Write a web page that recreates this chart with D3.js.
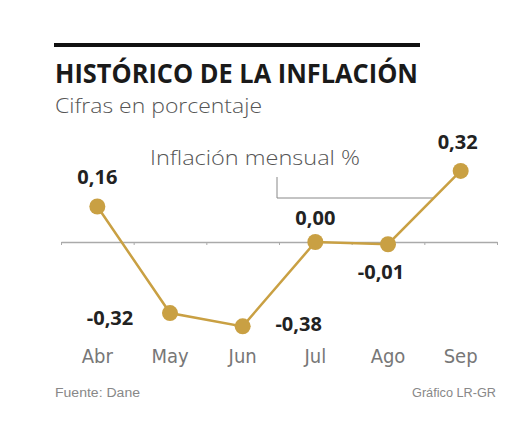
<!DOCTYPE html>
<meta charset="utf-8">
<head>
<style>
body { margin: 0; background: #fff; }
.month text { font-family: "Liberation Sans Narrow", "DejaVu Sans Condensed", sans-serif; font-size: 20px; fill: #777; }
.val { font-family: "Open Sans", sans-serif; font-weight: 700; font-size: 20px; fill: #222; }
</style>
</head>
<body>
<script src="https://cdn.jsdelivr.net/npm/d3@7"></script>
<div id="chart"></div>
<script>
var months = ["Abr", "May", "Jun", "Jul", "Ago", "Sep"];
var values = [0.16, -0.32, -0.38, 0.00, -0.01, 0.32];
var labels = ["0,16", "-0,32", "-0,38", "0,00", "-0,01", "0,32"];
// label offsets relative to each point
var labelDx = [0, -60, 56, 0, -7, -3];
var labelDy = [-22, 12, 5, -17, 35, -22];

var width = 530, height = 442;
var gold = "#c9a043";

var svg = d3.select("#chart").append("svg")
    .attr("width", width)
    .attr("height", height);

// top rule
svg.append("rect").attr("x", 54).attr("y", 43).attr("width", 366).attr("height", 4).attr("fill", "#111");

svg.append("text")
    .attr("x", 55).attr("y", 83)
    .style("font-family", "Open Sans, sans-serif").style("font-weight", 700)
    .style("font-size", "27px").style("fill", "#1a1a1a")
    .attr("textLength", 363).attr("lengthAdjust", "spacingAndGlyphs")
    .text("HISTÓRICO DE LA INFLACIÓN");

svg.append("text")
    .attr("x", 55).attr("y", 113)
    .style("font-family", "Open Sans, sans-serif").style("font-weight", 300)
    .style("font-size", "21px").style("fill", "#555")
    .attr("textLength", 207).attr("lengthAdjust", "spacingAndGlyphs")
    .text("Cifras en porcentaje");

var xb = d3.scaleBand().domain(months).range([61, 497]).padding(0);
var x = function(d) { return xb(d) + xb.bandwidth() / 2; };
var y = d3.scaleLinear().domain([-0.4, 0.35]).range([242 + 0.4 * 222, 242 - 0.35 * 222]);

// zero line with ticks at band boundaries
var bounds = months.map(function(m) { return xb(m); }).concat([xb.range()[1]]);
var axisScale = d3.scaleLinear().domain([61, 497]).range([61, 497]);
var zero = svg.append("g")
    .attr("transform", "translate(0," + y(0) + ")")
    .call(d3.axisBottom(axisScale).tickValues(bounds).tickSize(3).tickSizeOuter(0).tickFormat(""));
zero.select(".domain").attr("stroke", "#aaa").attr("stroke-width", 1.5);
zero.selectAll(".tick line").attr("stroke", "#aaa");

// legend + leader line
svg.append("text")
    .attr("x", 150).attr("y", 165)
    .style("font-family", "Open Sans, sans-serif").style("font-weight", 300)
    .style("font-size", "20px").style("fill", "#555")
    .attr("textLength", 210).attr("lengthAdjust", "spacingAndGlyphs")
    .text("Inflación mensual %");
svg.append("path")
    .attr("d", "M277,177V198H433")
    .attr("fill", "none").attr("stroke", "#888").attr("stroke-width", 1);

var line = d3.line()
    .x(function(d, i) { return x(months[i]); })
    .y(function(d) { return y(d); });

svg.append("path")
    .datum(values)
    .attr("d", line)
    .attr("fill", "none")
    .attr("stroke", gold)
    .attr("stroke-width", 2.5);

svg.selectAll(".dot")
    .data(values)
    .enter().append("circle")
    .attr("class", "dot")
    .attr("cx", function(d, i) { return x(months[i]); })
    .attr("cy", function(d) { return y(d); })
    .attr("r", 8)
    .attr("fill", gold);

svg.selectAll(".val")
    .data(values)
    .enter().append("text")
    .attr("class", "val")
    .attr("text-anchor", "middle")
    .attr("x", function(d, i) { return x(months[i]) + labelDx[i]; })
    .attr("y", function(d, i) { return y(d) + labelDy[i]; })
    .text(function(d, i) { return labels[i]; });

svg.append("g").attr("class", "month")
    .selectAll("text")
    .data(months)
    .enter().append("text")
    .attr("text-anchor", "middle")
    .attr("x", function(d) { return x(d); })
    .attr("y", 363)
    .text(function(d) { return d; });

svg.append("text")
    .attr("x", 55).attr("y", 397)
    .style("font-family", "Liberation Sans Narrow, sans-serif")
    .style("font-size", "12px").style("fill", "#888")
    .attr("textLength", 85).attr("lengthAdjust", "spacingAndGlyphs")
    .text("Fuente: Dane");
svg.append("text")
    .attr("x", 496).attr("y", 397).attr("text-anchor", "end")
    .style("font-family", "Liberation Sans Narrow, sans-serif")
    .style("font-size", "12px").style("fill", "#888")
    .attr("textLength", 84).attr("lengthAdjust", "spacingAndGlyphs")
    .text("Gráfico LR-GR");
</script>
</body>
